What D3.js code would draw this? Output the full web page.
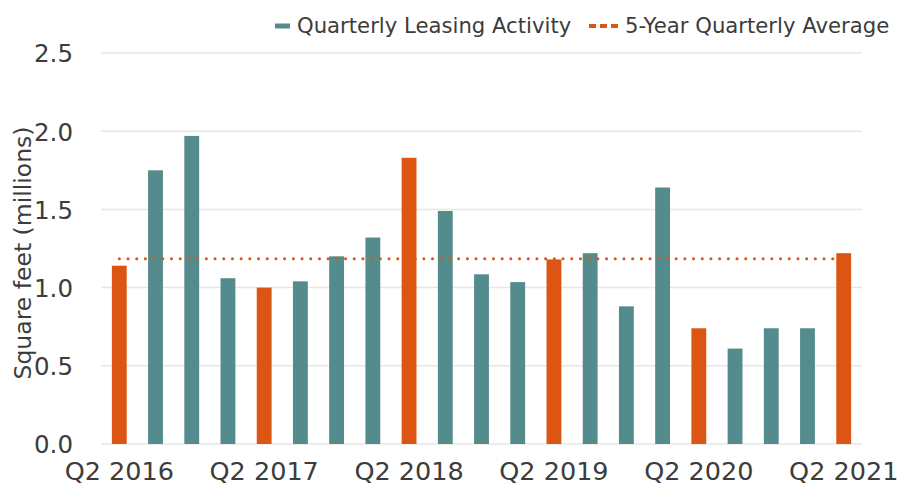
<!DOCTYPE html>
<html>
<head>
<meta charset="utf-8">
<script src="https://cdn.jsdelivr.net/npm/d3@7"></script>
<style>
  body { margin: 0; background: #fff; }
  svg { display: block; font-family: "DejaVu Sans", sans-serif; }
</style>
</head>
<body>
<div id="chart"></div>
<script>
// quarters Q2 2016 .. Q2 2021
var quarters = ['Q2 2016', 'Q3 2016', 'Q4 2016', 'Q1 2017', 'Q2 2017', 'Q3 2017', 'Q4 2017', 'Q1 2018',
    'Q2 2018', 'Q3 2018', 'Q4 2018', 'Q1 2019', 'Q2 2019', 'Q3 2019', 'Q4 2019', 'Q1 2020',
    'Q2 2020', 'Q3 2020', 'Q4 2020', 'Q1 2021', 'Q2 2021'];
var leasing = [1.14, 1.75, 1.97, 1.06, 1.00, 1.04, 1.20, 1.32,
    1.83, 1.49, 1.085, 1.035, 1.18, 1.22, 0.88, 1.64,
    0.74, 0.61, 0.74, 0.74, 1.22];
var fiveYearAvg = 1.185;
var yTicks = [0, 0.5, 1.0, 1.5, 2.0, 2.5];
var xTickLabels = ['Q2 2016', 'Q2 2017', 'Q2 2018', 'Q2 2019', 'Q2 2020', 'Q2 2021'];

var width = 900, height = 488;
var margin = { left: 101, right: 38, top: 53, bottom: 44 };
var teal = '#548b8c', orange = '#dd5512', textColor = '#3c3c3c';

var svg = d3.select('#chart').append('svg')
    .attr('width', width)
    .attr('height', height);

var x = d3.scaleBand()
    .domain(quarters)
    .range([margin.left, width - margin.right])
    .paddingInner(0.59)
    .paddingOuter(0.3);

var y = d3.scaleLinear()
    .domain([0, 2.5])
    .range([height - margin.bottom, margin.top]);

// gridlines
svg.append('g')
    .selectAll('line')
    .data(yTicks)
    .enter()
    .append('line')
    .attr('x1', margin.left)
    .attr('x2', width - margin.right)
    .attr('y1', function(d) { return y(d); })
    .attr('y2', function(d) { return y(d); })
    .attr('stroke', '#e6e6e6')
    .attr('stroke-width', 1.5);

// y axis labels
var yAxis = svg.append('g')
    .attr('transform', 'translate(' + (margin.left - 28) + ',0)')
    .call(d3.axisLeft(y).tickValues(yTicks).tickFormat(d3.format('.1f')).tickSize(0).tickPadding(0));
yAxis.select('.domain').remove();
yAxis.selectAll('text')
    .attr('fill', textColor)
    .style('font-size', '24.5px')
    .style('font-family', '"DejaVu Sans", sans-serif')
    .attr('dy', '0.36em');

// bars
svg.append('g')
    .selectAll('rect')
    .data(leasing)
    .enter()
    .append('rect')
    .attr('x', function(d, i) { return x(quarters[i]); })
    .attr('y', function(d) { return y(d); })
    .attr('width', x.bandwidth())
    .attr('height', function(d) { return y(0) - y(d); })
    .attr('fill', function(d, i) { return quarters[i].indexOf('Q2') === 0 ? orange : teal; });

// 5-year average line
var first = quarters[0], last = quarters[quarters.length - 1];
svg.append('line')
    .attr('x1', x(first) + x.bandwidth() / 2)
    .attr('x2', x(last) + x.bandwidth() / 2)
    .attr('y1', y(fiveYearAvg))
    .attr('y2', y(fiveYearAvg))
    .attr('stroke', orange)
    .attr('stroke-width', 3)
    .attr('stroke-linecap', 'round')
    .attr('stroke-dasharray', '0.1 8.6');

// x axis labels (kept just inside the bottom edge)
var xAxis = svg.append('g')
    .attr('transform', 'translate(0,' + y(0) + ')')
    .call(d3.axisBottom(x).tickValues(xTickLabels).tickSize(0).tickPadding(18));
xAxis.select('.domain').remove();
xAxis.selectAll('text')
    .attr('fill', textColor)
    .style('font-size', '25.5px')
    .style('font-family', '"DejaVu Sans", sans-serif');

// y axis title
svg.append('text')
    .attr('transform', 'translate(31,' + 253 + ') rotate(-90)')
    .attr('text-anchor', 'middle')
    .attr('fill', textColor)
    .style('font-size', '23.5px')
    .text('Square feet (millions)');

// legend
var legend = svg.append('g').attr('transform', 'translate(0,26)');
legend.append('rect')
    .attr('x', 275).attr('y', -2.5)
    .attr('width', 15).attr('height', 5)
    .attr('fill', teal);
legend.append('text')
    .attr('x', 297).attr('dy', '0.35em')
    .attr('fill', textColor)
    .style('font-size', '21.2px')
    .text('Quarterly Leasing Activity');
legend.append('line')
    .attr('x1', 589).attr('x2', 618)
    .attr('stroke', orange)
    .attr('stroke-width', 4)
    .attr('stroke-dasharray', '7 4');
legend.append('text')
    .attr('x', 625).attr('dy', '0.35em')
    .attr('fill', textColor)
    .style('font-size', '21.2px')
    .text('5-Year Quarterly Average');
</script>
</body>
</html>
